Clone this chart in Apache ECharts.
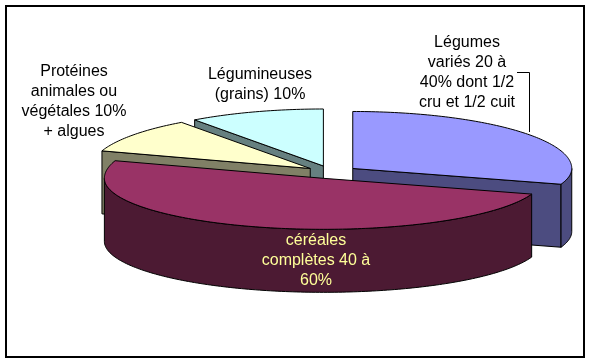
<!DOCTYPE html>
<html>
<head>
<meta charset="utf-8">
<script src="https://cdn.jsdelivr.net/npm/echarts@6/dist/echarts.min.js"></script>
<style>
  html, body { margin: 0; padding: 0; background: #fff; }
  #chart { width: 591px; height: 363px; }
</style>
</head>
<body>
<div id="chart"></div>
<script>
// ---- data ----
const categories = [
  'Légumes\nvariés 20 à\n40% dont 1/2\ncru et 1/2 cuit',
  'céréales\ncomplètes 40 à\n60%',
  'Protéines\nanimales ou\nvégétales 10%\n+ algues',
  'Légumineuses\n(grains) 10%'
];
const values = [30, 50, 10, 10];

// ---- styles ----
const topColors = ['#9999FF', '#993366', '#FFFFCC', '#CCFFFF'];
const sideColors = ['#4C4C80', '#4C1A33', '#808066', '#668080'];
const labelLayout = [
  { x: 467, y: 73, color: '#000000' },
  { x: 316, y: 261, color: '#FFFF99' },
  { x: 74, y: 101.5, color: '#000000' },
  { x: 260, y: 84.5, color: '#000000' }
];

// ---- 3D pie geometry ----
const G = { ox: 331.5, oy: 172.5, a: 219, bFar: 57, bNear: 51, h: 63, explode: 0.12, startAngle: 90 };

const total = values.reduce((s, v) => s + v, 0);
const rad = d => d * Math.PI / 180;
function sliceAngles(i) {
  let before = 0;
  for (let k = 0; k < i; k++) before += values[k];
  const hi = G.startAngle - before / total * 360;
  const lo = hi - values[i] / total * 360;
  return { lo, hi, mid: (lo + hi) / 2 };
}
const depthRank = (() => {
  const idx = values.map((_, i) => i);
  idx.sort((p, q) => Math.sin(rad(sliceAngles(q).mid)) - Math.sin(rad(sliceAngles(p).mid)));
  const r = [];
  idx.forEach((d, k) => { r[d] = k; });
  return r;
})();

function renderItem(params, api) {
  const i = params.dataIndex;
  const { lo, hi, mid } = sliceAngles(i);
  const ms = Math.sin(rad(mid));
  const cx = G.ox + G.explode * G.a * Math.cos(rad(mid));
  const cy = G.oy - G.explode * (ms > 0 ? G.bFar : G.bNear) * ms;
  const P = (deg, dz) => {
    const r = rad(deg);
    const s = Math.sin(r);
    return [cx + G.a * Math.cos(r), cy - (s > 0 ? G.bFar : G.bNear) * s + dz];
  };
  const arc = (s, e, dz) => {
    const pts = [];
    const n = Math.max(2, Math.ceil(Math.abs(e - s)));
    for (let k = 0; k <= n; k++) pts.push(P(s + (e - s) * k / n, dz));
    return pts;
  };
  const base = depthRank[i] * 10;
  const stroke = { stroke: '#000', lineWidth: 1, lineJoin: 'round' };
  const children = [];
  const C = [cx, cy], Cb = [cx, cy + G.h];
  // radial faces facing the viewer
  if (Math.cos(rad(hi)) < -1e-6) {
    children.push({ type: 'polygon', z2: base + 1,
      shape: { points: [C, P(hi, 0), P(hi, G.h), Cb] },
      style: Object.assign({ fill: sideColors[i] }, stroke) });
  }
  if (Math.cos(rad(lo)) > 1e-6) {
    children.push({ type: 'polygon', z2: base + 1,
      shape: { points: [C, P(lo, 0), P(lo, G.h), Cb] },
      style: Object.assign({ fill: sideColors[i] }, stroke) });
  }
  // outer wall (front half only)
  for (let k = -2; k <= 1; k++) {
    const fs = -180 + 360 * k, fe = 360 * k;
    const s = Math.max(lo, fs), e = Math.min(hi, fe);
    if (e - s > 0.01) {
      const topArc = arc(s, e, 0);
      const botArc = arc(e, s, G.h);
      children.push({ type: 'polygon', z2: base + 2,
        shape: { points: topArc.concat(botArc) },
        style: Object.assign({ fill: sideColors[i] }, stroke) });
    }
  }
  // top face
  children.push({ type: 'polygon', z2: base + 3,
    shape: { points: [C].concat(arc(lo, hi, 0)) },
    style: Object.assign({ fill: topColors[i] }, stroke) });
  return { type: 'group', children };
}

const labelGraphics = categories.map((name, i) => ({
  type: 'text',
  x: labelLayout[i].x,
  y: labelLayout[i].y,
  z: 100,
  style: {
    text: name,
    fill: labelLayout[i].color,
    font: '16px "Liberation Sans", Arial, sans-serif',
    align: 'center',
    verticalAlign: 'middle',
    lineHeight: 20
  }
}));

const chart = echarts.init(document.getElementById('chart'), null, { renderer: 'canvas' });
chart.setOption({
  backgroundColor: '#ffffff',
  animation: false,
  series: [{
    type: 'custom',
    coordinateSystem: 'none',
    silent: true,
    renderItem: renderItem,
    data: values.map((v, i) => ({ name: categories[i], value: v }))
  }],
  graphic: [
    { type: 'rect', z: 99, shape: { x: 6, y: 6, width: 578, height: 351 },
      style: { fill: 'none', stroke: '#000', lineWidth: 2 } },
    { type: 'polyline', z: 101, shape: { points: [[517, 72.5], [529.5, 72.5], [529.5, 132]] },
      style: { stroke: '#000', lineWidth: 1, fill: 'none' } }
  ].concat(labelGraphics)
});
</script>
</body>
</html>
